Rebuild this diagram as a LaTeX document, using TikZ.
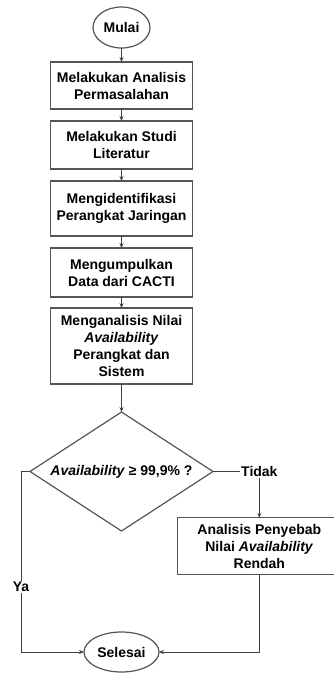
\documentclass[tikz,border=0pt]{standalone}
\usepackage{fontspec}
\setmainfont{Liberation Sans}
\usepackage{tikz}
\usetikzlibrary{arrows.meta,positioning,shapes.geometric}
\definecolor{clGaris}{HTML}{404040}
\definecolor{clTepi}{HTML}{555555}
\tikzset{
  kotak/.style={rectangle, draw=clTepi, line width=1.2pt, align=center,
                inner sep=2pt, outer sep=0pt, minimum width=142pt},
  terminal/.style={ellipse, draw=clTepi, line width=1.2pt, inner sep=0pt, outer sep=0pt},
  keputusan/.style={diamond, draw=clTepi, line width=1.2pt, inner sep=0pt, outer sep=0pt,
                    aspect=1.6, minimum width=183pt, minimum height=119pt},
  alur/.style={-{Stealth[length=5pt,width=4pt]}, line width=0.9pt, draw=clGaris},
  garis/.style={line width=0.9pt, draw=clGaris},
  labelalur/.style={fill=white, inner sep=1pt},
}

\begin{document}
\begin{tikzpicture}[x=1pt, y=-1pt, every node/.style={font=\fontsize{14}{17}\selectfont\bfseries}]
  \useasboundingbox (0,0) rectangle (334,673);
  \node[terminal, minimum width=57pt, minimum height=41pt] (mulai) at (121.5,27.5) {Mulai};
  \node[kotak, minimum height=47pt, below=14pt of mulai] (analisis) {Melakukan Analisis\\Permasalahan};
  \node[kotak, minimum height=48pt, below=12pt of analisis] (studi) {Melakukan Studi\\Literatur};
  \node[kotak, minimum height=55pt, below=12pt of studi] (identifikasi) {Mengidentifikasi\\Perangkat Jaringan};
  \node[kotak, minimum height=49pt, below=12pt of identifikasi] (kumpul) {Mengumpulkan\\Data dari CACTI};
  \node[kotak, minimum height=76pt, below=11pt of kumpul] (nilai) {Menganalisis Nilai\\\textit{Availability}\\Perangkat dan\\Sistem};
  \node[keputusan, below=28pt of nilai] (cek) {\textit{Availability} ≥ 99,9\% ?};
  \node[inner sep=1pt, right=27pt of cek] (tidak) {Tidak};
  \node[kotak, minimum width=164pt, minimum height=57pt, below=40pt of tidak] (sebab) {Analisis Penyebab\\Nilai \textit{Availability}\\Rendah};
  \node[terminal, minimum width=75pt, minimum height=40pt, below=101pt of cek] (selesai) {Selesai};

  \draw[alur] (mulai) -- (analisis);
  \draw[alur] (analisis) -- (studi);
  \draw[alur] (studi) -- (identifikasi);
  \draw[alur] (identifikasi) -- (kumpul);
  \draw[alur] (kumpul) -- (nilai);
  \draw[alur] (nilai) -- (cek);
  \draw[garis] (cek.east) -- (tidak.west);
  \draw[alur] (tidak.south) -- (sebab.north);
  \draw[alur] (cek.west) -- ++(-9,0) |- node[labelalur, pos=0.32]{Ya} (selesai.west);
  \draw[alur] (sebab.south) |- (selesai.east);
\end{tikzpicture}
\end{document}
